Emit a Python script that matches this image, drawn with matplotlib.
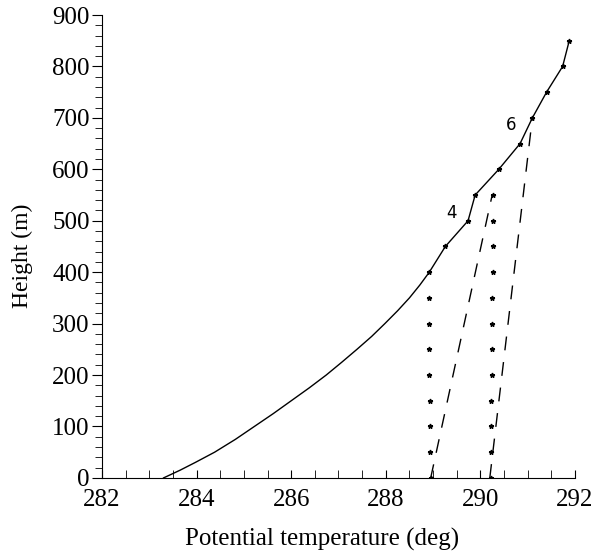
import matplotlib
matplotlib.use("Agg")
import matplotlib.pyplot as plt
from matplotlib.ticker import MultipleLocator

# Main potential temperature profile (smooth part, no markers)
profile_h = [0, 15, 30, 50, 75, 100, 125, 150, 175, 200, 225, 250, 275, 300, 325, 350, 375, 400]
profile_t = [283.3, 283.65, 283.97, 284.38, 284.82, 285.22, 285.62, 286.0, 286.38, 286.74,
             287.07, 287.39, 287.7, 287.98, 288.25, 288.5, 288.72, 288.92]
# Upper part with star markers
upper_h = [400, 450, 500, 550, 600, 650, 700, 750, 800, 850]
upper_t = [288.92, 289.26, 289.74, 289.89, 290.39, 290.84, 291.10, 291.40, 291.74, 291.88]

# Mixed-layer columns (star points)
col1_h = [0, 50, 100, 150, 200, 250, 300, 350]
col1_t = [288.95, 288.94, 288.93, 288.93, 288.92, 288.92, 288.92, 288.92]
col2_h = [0, 50, 100, 150, 200, 250, 300, 350, 400, 450, 500, 550]
col2_t = [290.22, 290.22, 290.23, 290.23, 290.24, 290.24, 290.25, 290.25, 290.26, 290.26, 290.27, 290.27]

# Dashed lines
dash1_t = [288.95, 290.25]
dash1_h = [0, 550]
dash2_t = [290.2, 291.1]
dash2_h = [0, 700]

labels = [("4", 289.4, 516), ("6", 290.65, 687)]

plt.rcParams['font.family'] = ['Liberation Serif', 'DejaVu Serif']

fig = plt.figure(figsize=(5.97, 5.57), dpi=100)
ax = fig.add_axes([0.171, 0.142, 0.792, 0.831])

ax.plot(profile_t, profile_h, color='black', lw=1.0)
ax.plot(upper_t, upper_h, color='black', lw=1.0, marker='*', ms=3.5)
ax.plot(col1_t, col1_h, ls='none', color='black', marker='*', ms=3.5)
ax.plot(col2_t, col2_h, ls='none', color='black', marker='*', ms=3.5)
ax.plot(dash1_t, dash1_h, color='black', lw=1.0, dashes=(10, 8.5))
ax.plot(dash2_t, dash2_h, color='black', lw=1.0, dashes=(10, 8.5))

for txt, x, y in labels:
    ax.text(x, y, txt, fontsize=12, family='DejaVu Sans', ha='center', va='center')

ax.set_xlim(282, 292)
ax.set_ylim(0, 900)
ax.xaxis.set_major_locator(MultipleLocator(2))
ax.xaxis.set_minor_locator(MultipleLocator(0.5))
ax.yaxis.set_major_locator(MultipleLocator(100))
ax.yaxis.set_minor_locator(MultipleLocator(20))
ax.tick_params(axis='x', which='both', direction='in', labelsize=18, pad=8)
ax.tick_params(axis='x', which='major', length=6)
ax.tick_params(axis='x', which='minor', length=6)
ax.tick_params(axis='y', which='both', direction='out', labelsize=18, pad=2)
ax.tick_params(axis='y', which='major', length=7)
ax.tick_params(axis='y', which='minor', length=5)
for s in ['top', 'right']:
    ax.spines[s].set_visible(False)
ax.set_xlabel('Potential temperature (deg)', fontsize=18, labelpad=12, x=0.465)
ax.set_ylabel('Height (m)', fontsize=17, labelpad=14, y=0.48)

fig.savefig('out.png', dpi=100)
